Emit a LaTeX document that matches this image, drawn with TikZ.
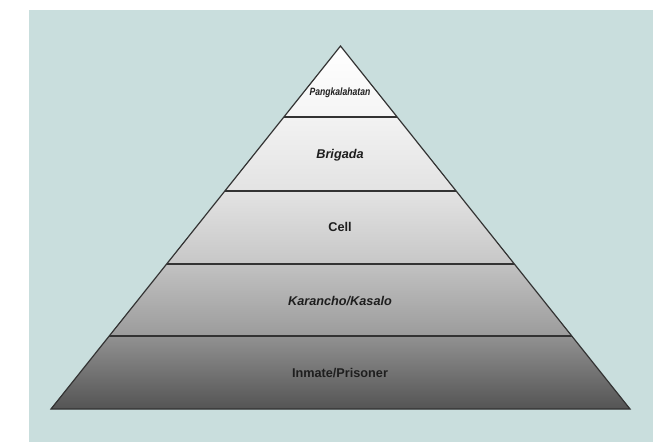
\documentclass[tikz,border=0pt]{standalone}
\usepackage{fontspec}
\setmainfont{Liberation Sans}
\usetikzlibrary{calc}
\definecolor{bgc}{HTML}{C9DEDD}
\definecolor{edge}{HTML}{333333}
\definecolor{txt}{HTML}{1E1E1E}
\tikzset{
  band/.style={draw=none},
  divider/.style={draw=edge, line width=1.6pt},
  outline/.style={draw=edge, line width=1.2pt, line join=miter},
  lbl/.style={text=txt, font=\bfseries\fontsize{12.7}{15}\selectfont, inner sep=0pt},
  lbli/.style={lbl, font=\bfseries\itshape\fontsize{12.7}{15}\selectfont}
}
\begin{document}
\begin{tikzpicture}[x=1pt,y=-1pt]
\useasboundingbox (0,0) rectangle (668,442);
\fill[bgc] (29,10) rectangle (653,442);
\coordinate (A) at (340.5,46);
\coordinate (L) at (51,409);
\coordinate (R) at (630,409);
\foreach \n/\t in {1/0.1956,2/0.3994,3/0.6006,4/0.7989}{
  \coordinate (L\n) at ($(A)!\t!(L)$);
  \coordinate (R\n) at ($(A)!\t!(R)$);
}
% bands
\shade[band, top color=white, bottom color=white!96!black] (A) -- (L1) -- (R1) -- cycle;
\shade[band, top color=white!95!black, bottom color=white!89!black] (L1) -- (R1) -- (R2) -- (L2) -- cycle;
\shade[band, top color=white!89!black, bottom color=white!78!black] (L2) -- (R2) -- (R3) -- (L3) -- cycle;
\shade[band, top color=white!76!black, bottom color=white!61!black] (L3) -- (R3) -- (R4) -- (L4) -- cycle;
\shade[band, top color=white!57!black, bottom color=white!33!black] (L4) -- (R4) -- (R) -- (L) -- cycle;
% dividers
\draw[divider] (L1) -- (R1);
\draw[divider] (L2) -- (R2);
\draw[divider] (L3) -- (R3);
\draw[divider] (L4) -- (R4);
\draw[outline] (A) -- (L) -- (R) -- cycle;
% labels
\node[lbl, font=\bfseries\itshape\fontsize{10.6}{12}\selectfont, xscale=0.81] (t1) at (340,93) {Pangkalahatan};
\node[lbli] (t2) at (340,155) {Brigada};
\node[lbl] (t3) at (340,227) {Cell};
\node[lbli] (t4) at (340,301) {Karancho/Kasalo};
\node[lbl] (t5) at (340,373) {Inmate/Prisoner};
\end{tikzpicture}
\end{document}
